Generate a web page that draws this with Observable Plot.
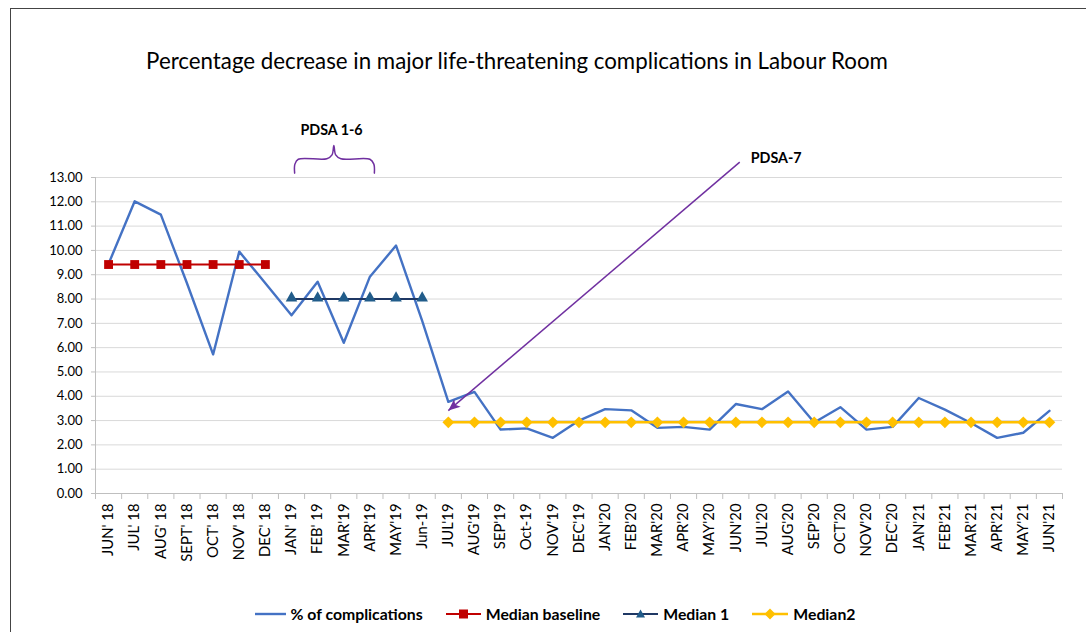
<!DOCTYPE html>
<html><head><meta charset="utf-8">
<script src="https://cdn.jsdelivr.net/npm/d3@7"></script>
<script src="https://cdn.jsdelivr.net/npm/@observablehq/plot@0.6"></script>
<style>
body{margin:0;background:#fff;font-family:Lato,"Open Sans",sans-serif;}
#wrap{position:relative;width:1086px;height:632px;overflow:hidden;background:#fff;}
#frame{position:absolute;left:10px;top:8px;width:1300px;height:800px;border-left:1.5px solid #444;border-top:1.5px solid #444;box-sizing:border-box;}
#title{position:absolute;left:0;top:46px;width:1034px;text-align:center;font-size:22.3px;line-height:30px;color:#000;}
#chart{position:absolute;left:0;top:0;}
#legend{position:absolute;left:0;top:603px;width:1110px;display:flex;justify-content:center;gap:23px;font-weight:bold;font-size:15.8px;line-height:22px;color:#000;}
#legend .it{display:flex;align-items:center;gap:5px;}
</style>
</head><body>
<div id="wrap">
  <div id="frame"></div>
  <div id="title">Percentage decrease in major life-threatening complications in Labour Room</div>
  <div id="chart"></div>
  <div id="legend"></div>
</div>
<script>
// ---- data ----
const months = ["JUN' 18","JUL' 18","AUG' 18","SEPT' 18","OCT' 18","NOV' 18","DEC' 18","JAN' 19","FEB' 19","MAR'19","APR'19","MAY'19","Jun-19","JUL'19","AUG'19","SEP'19","Oct-19","NOV'19","DEC'19","JAN'20","FEB'20","MAR'20","APR'20","MAY'20","JUN'20","JUL'20","AUG'20","SEP'20","OCT'20","NOV'20","DEC'20","JAN'21","FEB'21","MAR'21","APR'21","MAY'21","JUN'21"];
const pctComplications = [9.45,12.02,11.47,8.65,5.72,9.95,8.65,7.33,8.71,6.2,8.92,10.2,7.1,3.77,4.18,2.63,2.68,2.29,3.0,3.47,3.42,2.70,2.74,2.63,3.68,3.47,4.2,2.92,3.55,2.63,2.74,3.93,3.45,2.9,2.29,2.5,3.4];
const medianBaseline = {value: 9.42, from: 0, to: 6};
const median1 = {value: 8.0, from: 7, to: 12};
const median2 = {value: 2.93, from: 13, to: 36};
const yTicks = [0,1,2,3,4,5,6,7,8,9,10,11,12,13];
const legendItems = ["% of complications","Median baseline","Median 1","Median2"];
// annotations (data coordinates: month index, percent)
const braceCurve = [[7.12,13.18],[7.13,13.55],[7.26,13.75],[8.35,13.77],[8.55,13.93],[8.62,14.32],[8.69,13.93],[8.89,13.77],[10.0,13.75],[10.15,13.55],[10.17,13.18]];
const pdsa16 = {x: 8.53, y: 14.93, label: "PDSA 1-6"};
const pdsa7 = {x: 24.57, y: 13.78, label: "PDSA-7"};
const pdsa7Arrow = {x1: 24.15, y1: 13.63, x2: 13.0, y2: 3.41};

// ---- build table ----
const rows = months.map((m, i) => ({i, month: m, pct: pctComplications[i]}));
const medRows = (med) => d3.range(med.from, med.to + 1).map(i => ({i, v: med.value}));
const boundaries = d3.range(months.length + 1).map(i => i - 0.5);

const C = {blue:"#4472C4", red:"#C00000", navy:"#1F3864", navyMark:"#215C8A", yellow:"#FFC000", purple:"#7030A0", axis:"#bfbfbf", grid:"#d9d9d9"};

function filledArrow(color) {
  const ns = "http://www.w3.org/2000/svg";
  const m = document.createElementNS(ns, "marker");
  m.setAttribute("viewBox", "-12 -6 12 12");
  m.setAttribute("markerWidth", "12");
  m.setAttribute("markerHeight", "12");
  m.setAttribute("markerUnits", "userSpaceOnUse");
  m.setAttribute("refX", "0");
  m.setAttribute("refY", "0");
  m.setAttribute("orient", "auto");
  const p = document.createElementNS(ns, "path");
  p.setAttribute("d", "M-12,-5L0,0L-12,5L-9,0Z");
  p.setAttribute("fill", color);
  p.setAttribute("stroke", "none");
  m.appendChild(p);
  return m;
}

const chart = Plot.plot({
  width: 1086,
  height: 590,
  marginLeft: 95,
  marginRight: 24,
  marginTop: 177,
  marginBottom: 97,
  style: {fontFamily: "Lato, 'Open Sans', sans-serif", fontSize: "13px", color: "#000", background: "transparent", overflow: "visible"},
  x: {type: "linear", domain: [-0.5, months.length - 0.5]},
  y: {domain: [0, 13]},
  marks: [
    Plot.gridY(yTicks, {stroke: C.grid, strokeOpacity: 1}),
    Plot.axisY(yTicks, {tickFormat: d => d.toFixed(2), tickSize: 4, tickPadding: 9, stroke: C.axis, fontSize: 13, label: null}),
    Plot.axisX(boundaries, {tickSize: 6, tickFormat: () => "", stroke: C.axis, label: null}),
    Plot.axisX(d3.range(months.length), {tickSize: 0, tickPadding: 10, tickRotate: -90, tickFormat: i => months[i], fontSize: 14.8, label: null}),
    Plot.ruleX([-0.5], {stroke: C.axis}),
    Plot.ruleY([0], {stroke: C.axis}),
    Plot.line(rows, {x: "i", y: "pct", stroke: C.blue, strokeWidth: 2.4}),
    Plot.line(medRows(medianBaseline), {x: "i", y: "v", stroke: C.red, strokeWidth: 2}),
    Plot.dot(medRows(medianBaseline), {x: "i", y: "v", symbol: "square", r: 5, fill: C.red}),
    Plot.line(medRows(median1), {x: "i", y: "v", stroke: C.navy, strokeWidth: 2}),
    Plot.dot(medRows(median1), {x: "i", y: "v", symbol: "triangle", r: 4.3, fill: C.navyMark, dy: -1}),
    Plot.line(medRows(median2), {x: "i", y: "v", stroke: C.yellow, strokeWidth: 2.5}),
    Plot.dot(medRows(median2), {x: "i", y: "v", symbol: "diamond2", r: 5.3, fill: C.yellow}),
    Plot.line(braceCurve, {x: d => d[0], y: d => d[1], stroke: C.purple, strokeWidth: 1.5, curve: "catmull-rom"}),
    Plot.text([pdsa16], {x: "x", y: "y", text: "label", fontWeight: "bold", fontSize: 14.3}),
    Plot.text([pdsa7], {x: "x", y: "y", text: "label", fontWeight: "bold", fontSize: 14.3, textAnchor: "start"}),
    Plot.link([pdsa7Arrow], {x1: "x1", y1: "y1", x2: "x2", y2: "y2", stroke: C.purple, strokeWidth: 1.5, markerEnd: filledArrow})
  ]
});
document.getElementById("chart").appendChild(chart);

// ---- legend ----
const swatch = [
  `<svg width="31" height="12"><line x1="0" y1="6" x2="31" y2="6" stroke="${C.blue}" stroke-width="2.4"/></svg>`,
  `<svg width="35" height="12"><line x1="0" y1="6" x2="35" y2="6" stroke="${C.red}" stroke-width="2"/><rect x="13" y="1.5" width="9" height="9" fill="${C.red}"/></svg>`,
  `<svg width="35" height="12"><line x1="0" y1="6" x2="35" y2="6" stroke="${C.navy}" stroke-width="2"/><path d="M17.5,1.5L22,9.5L13,9.5Z" fill="${C.navyMark}"/></svg>`,
  `<svg width="36" height="12"><line x1="0" y1="6" x2="36" y2="6" stroke="${C.yellow}" stroke-width="2.5"/><path d="M18,0.5L23.5,6L18,11.5L12.5,6Z" fill="${C.yellow}"/></svg>`
];
document.getElementById("legend").innerHTML = legendItems.map((t, k) => `<div class="it">${swatch[k]}<span>${t}</span></div>`).join("");
</script>
</body></html>
